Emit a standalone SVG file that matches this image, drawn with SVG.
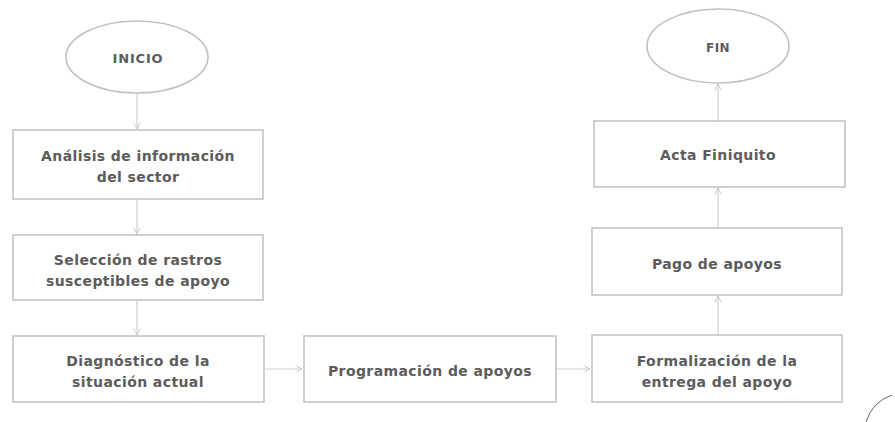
<svg xmlns="http://www.w3.org/2000/svg" width="895" height="422" viewBox="0 0 895 422">
<defs>
<style>
.box{fill:#fff;stroke:#c4c4c4;stroke-width:1.6}
.term{fill:#fff;stroke:#c0c0c0;stroke-width:1.6}
.t{font-family:"DejaVu Sans","Liberation Sans",sans-serif;font-size:14px;font-weight:bold;letter-spacing:0.4px;fill:#5c5c5c;text-anchor:middle}
.c{fill:none;stroke:#cfcfcf;stroke-width:1.2;marker-end:url(#ah)}
</style>
<marker id="ah" viewBox="0 0 10 10" refX="9" refY="5" markerWidth="8" markerHeight="8" orient="auto" markerUnits="userSpaceOnUse">
<path d="M1,1 L9,5 L1,9" fill="none" stroke="#c8c8c8" stroke-width="1.2"/>
</marker>
</defs>
<rect width="895" height="422" fill="#fff"/>
<g id="connectors">
<line class="c" x1="137" y1="94" x2="137" y2="129"/>
<line class="c" x1="137" y1="200" x2="137" y2="234"/>
<line class="c" x1="137" y1="301" x2="137" y2="335"/>
<line class="c" x1="265" y1="369" x2="302" y2="369"/>
<line class="c" x1="557" y1="369" x2="590" y2="369"/>
<line class="c" x1="718" y1="335" x2="718" y2="296"/>
<line class="c" x1="718" y1="228" x2="718" y2="188"/>
<line class="c" x1="718" y1="121" x2="718" y2="84"/>
</g>
<g id="inicio">
<ellipse class="term" cx="137" cy="57" rx="71" ry="36"/>
<text class="t" x="138" y="63" style="font-size:13px;letter-spacing:0.8px">INICIO</text>
</g>
<g id="analisis">
<rect class="box" x="13" y="130" width="250" height="69"/>
<text class="t" x="138" y="161">Análisis de información</text>
<text class="t" x="138" y="182">del sector</text>
</g>
<g id="seleccion">
<rect class="box" x="13" y="235" width="250" height="65"/>
<text class="t" x="138" y="265">Selección de rastros</text>
<text class="t" x="138" y="286">susceptibles de apoyo</text>
</g>
<g id="diagnostico">
<rect class="box" x="13" y="336" width="251" height="66"/>
<text class="t" x="138" y="366">Diagnóstico de la</text>
<text class="t" x="138" y="387">situación actual</text>
</g>
<g id="programacion">
<rect class="box" x="304" y="336" width="252" height="66"/>
<text class="t" x="430" y="376">Programación de apoyos</text>
</g>
<g id="formalizacion">
<rect class="box" x="592" y="335" width="250" height="67"/>
<text class="t" x="717" y="366">Formalización de la</text>
<text class="t" x="717" y="387">entrega del apoyo</text>
</g>
<g id="pago">
<rect class="box" x="592" y="228" width="250" height="67"/>
<text class="t" x="717" y="269">Pago de apoyos</text>
</g>
<g id="acta">
<rect class="box" x="594" y="121" width="251" height="66"/>
<text class="t" x="718" y="160">Acta Finiquito</text>
</g>
<g id="fin">
<ellipse class="term" cx="718" cy="46" rx="71" ry="37"/>
<text class="t" x="718" y="52" style="font-size:12px">FIN</text>
</g>
<path d="M866,422 Q872,402 892,395" fill="none" stroke="#666" stroke-width="1"/>
</svg>
